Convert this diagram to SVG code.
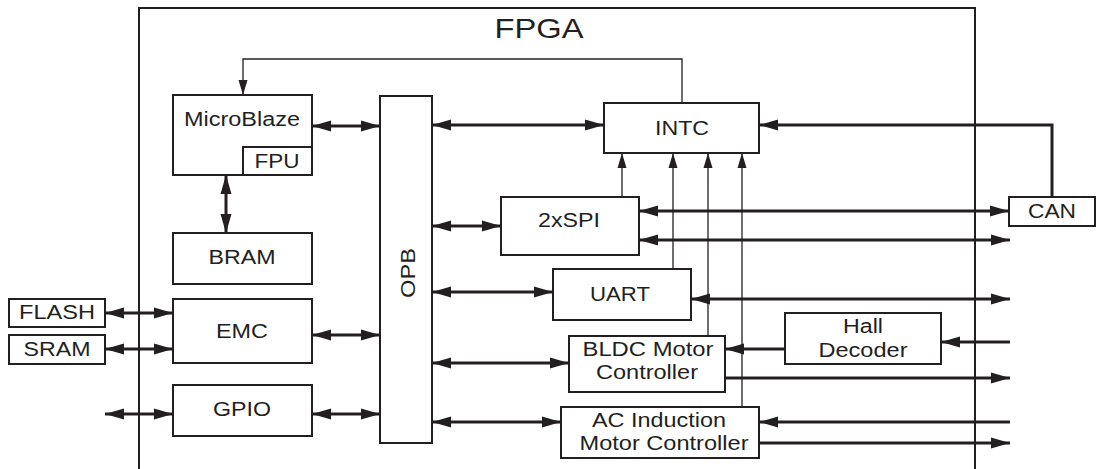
<svg xmlns="http://www.w3.org/2000/svg" width="1102" height="469" viewBox="0 0 1102 469">
<style>
  .box{fill:#fff;stroke:#231f20;stroke-width:2}
  .frame{fill:none;stroke:#231f20;stroke-width:2}
  .lbl{font-family:"Liberation Sans",Arial,Helvetica,sans-serif;font-size:20px;fill:#231f20;text-anchor:middle}
  .title{font-family:"Liberation Sans",Arial,Helvetica,sans-serif;font-size:28px;fill:#231f20;text-anchor:middle}
  .bus{fill:none;stroke:#231f20;stroke-width:3}
  .bus2{marker-start:url(#ah);marker-end:url(#ah)}
  .bus1{marker-end:url(#ah)}
  .sig{fill:none;stroke:#231f20;stroke-width:1.3;marker-end:url(#ahs)}
</style>
<defs>
  <marker id="ah" markerUnits="userSpaceOnUse" markerWidth="20" markerHeight="12" refX="19" refY="5.5" orient="auto-start-reverse" overflow="visible">
    <path d="M0,0 L19,5.5 L0,11 Z" fill="#231f20"/>
  </marker>
  <marker id="ahs" markerUnits="userSpaceOnUse" markerWidth="16" markerHeight="10" refX="15" refY="4.5" orient="auto" overflow="visible">
    <path d="M0,0 L15,4.5 L0,9 Z" fill="#231f20"/>
  </marker>
</defs>
<rect width="1102" height="469" fill="#fff"/>

<g id="fpga">
  <path class="frame" d="M139,469 V8 H975 V469"/>
  <text class="title" x="539" y="38" textLength="89" lengthAdjust="spacingAndGlyphs">FPGA</text>
</g>

<g id="connectors">
  <path class="bus bus2" d="M312,126 H380"/>
  <path class="bus bus2" d="M226,175 V233"/>
  <path class="bus bus2" d="M312,335 H380"/>
  <path class="bus bus2" d="M312,414 H380"/>
  <path class="bus bus2" d="M105,313 H173"/>
  <path class="bus bus2" d="M105,349 H173"/>
  <path class="bus bus2" d="M105,414 H173"/>
  <path class="bus bus2" d="M432,125 H604"/>
  <path class="bus bus2" d="M432,226 H501"/>
  <path class="bus bus2" d="M432,292 H553"/>
  <path class="bus bus2" d="M432,363 H569"/>
  <path class="bus bus2" d="M432,422 H561"/>
  <path class="bus bus2" d="M639,211 H1009"/>
  <path class="bus bus2" d="M639,240 H1010"/>
  <path class="bus bus2" d="M691,299 H1010"/>
  <path class="bus bus1" d="M1052,197 V125 H759"/>
  <path class="bus bus1" d="M785,349 H725"/>
  <path class="bus bus1" d="M1010,342 H941"/>
  <path class="bus bus1" d="M725,378 H1010"/>
  <path class="bus bus1" d="M1010,422 H759"/>
  <path class="bus bus1" d="M759,443 H1010"/>
  <path class="sig" d="M622,197 V153"/>
  <path class="sig" d="M673,269 V153"/>
  <path class="sig" d="M708,336 V153"/>
  <path class="sig" d="M742,407 V153"/>
  <path class="sig" d="M682,103 V59 H243 V95"/>
</g>

<g id="microblaze">
  <rect class="box" x="173" y="95" width="139" height="80"/>
  <text class="lbl" x="242" y="126" textLength="116" lengthAdjust="spacingAndGlyphs">MicroBlaze</text>
</g>
<g id="fpu">
  <rect class="box" x="243" y="147" width="69" height="28"/>
  <text class="lbl" x="277" y="168" textLength="45" lengthAdjust="spacingAndGlyphs">FPU</text>
</g>
<g id="bram">
  <rect class="box" x="173" y="233" width="139" height="51"/>
  <text class="lbl" x="242" y="264" textLength="67" lengthAdjust="spacingAndGlyphs">BRAM</text>
</g>
<g id="emc">
  <rect class="box" x="173" y="299" width="139" height="64"/>
  <text class="lbl" x="242" y="338" textLength="52" lengthAdjust="spacingAndGlyphs">EMC</text>
</g>
<g id="gpio">
  <rect class="box" x="173" y="385" width="139" height="51"/>
  <text class="lbl" x="242" y="416" textLength="58" lengthAdjust="spacingAndGlyphs">GPIO</text>
</g>
<g id="flash">
  <rect class="box" x="9" y="299" width="96" height="28"/>
  <text class="lbl" x="57" y="319" textLength="76" lengthAdjust="spacingAndGlyphs">FLASH</text>
</g>
<g id="sram">
  <rect class="box" x="9" y="335" width="96" height="29"/>
  <text class="lbl" x="57" y="356" textLength="67" lengthAdjust="spacingAndGlyphs">SRAM</text>
</g>
<g id="opb">
  <rect class="box" x="380" y="96" width="52" height="347"/>
  <text class="lbl" transform="translate(415,273) rotate(-90)" x="0" y="0" textLength="50" lengthAdjust="spacingAndGlyphs">OPB</text>
</g>
<g id="intc">
  <rect class="box" x="604" y="103" width="155" height="50"/>
  <text class="lbl" x="682" y="135" textLength="54" lengthAdjust="spacingAndGlyphs">INTC</text>
</g>
<g id="spi">
  <rect class="box" x="501" y="197" width="138" height="58"/>
  <text class="lbl" x="569" y="227" textLength="62" lengthAdjust="spacingAndGlyphs">2xSPI</text>
</g>
<g id="uart">
  <rect class="box" x="553" y="269" width="138" height="51"/>
  <text class="lbl" x="620" y="301" textLength="60" lengthAdjust="spacingAndGlyphs">UART</text>
</g>
<g id="bldc">
  <rect class="box" x="569" y="336" width="156" height="56"/>
  <text class="lbl" x="648" y="356" textLength="131" lengthAdjust="spacingAndGlyphs">BLDC Motor</text>
  <text class="lbl" x="647" y="379" textLength="102" lengthAdjust="spacingAndGlyphs">Controller</text>
</g>
<g id="acim">
  <rect class="box" x="561" y="407" width="198" height="51"/>
  <text class="lbl" x="659" y="427" textLength="134" lengthAdjust="spacingAndGlyphs">AC Induction</text>
  <text class="lbl" x="664" y="450" textLength="169" lengthAdjust="spacingAndGlyphs">Motor Controller</text>
</g>
<g id="hall">
  <rect class="box" x="785" y="313" width="156" height="51"/>
  <text class="lbl" x="863" y="333" textLength="40" lengthAdjust="spacingAndGlyphs">Hall</text>
  <text class="lbl" x="863" y="357" textLength="89" lengthAdjust="spacingAndGlyphs">Decoder</text>
</g>
<g id="can">
  <rect class="box" x="1009" y="197" width="86" height="29"/>
  <text class="lbl" x="1052" y="218" textLength="48" lengthAdjust="spacingAndGlyphs">CAN</text>
</g>
</svg>
